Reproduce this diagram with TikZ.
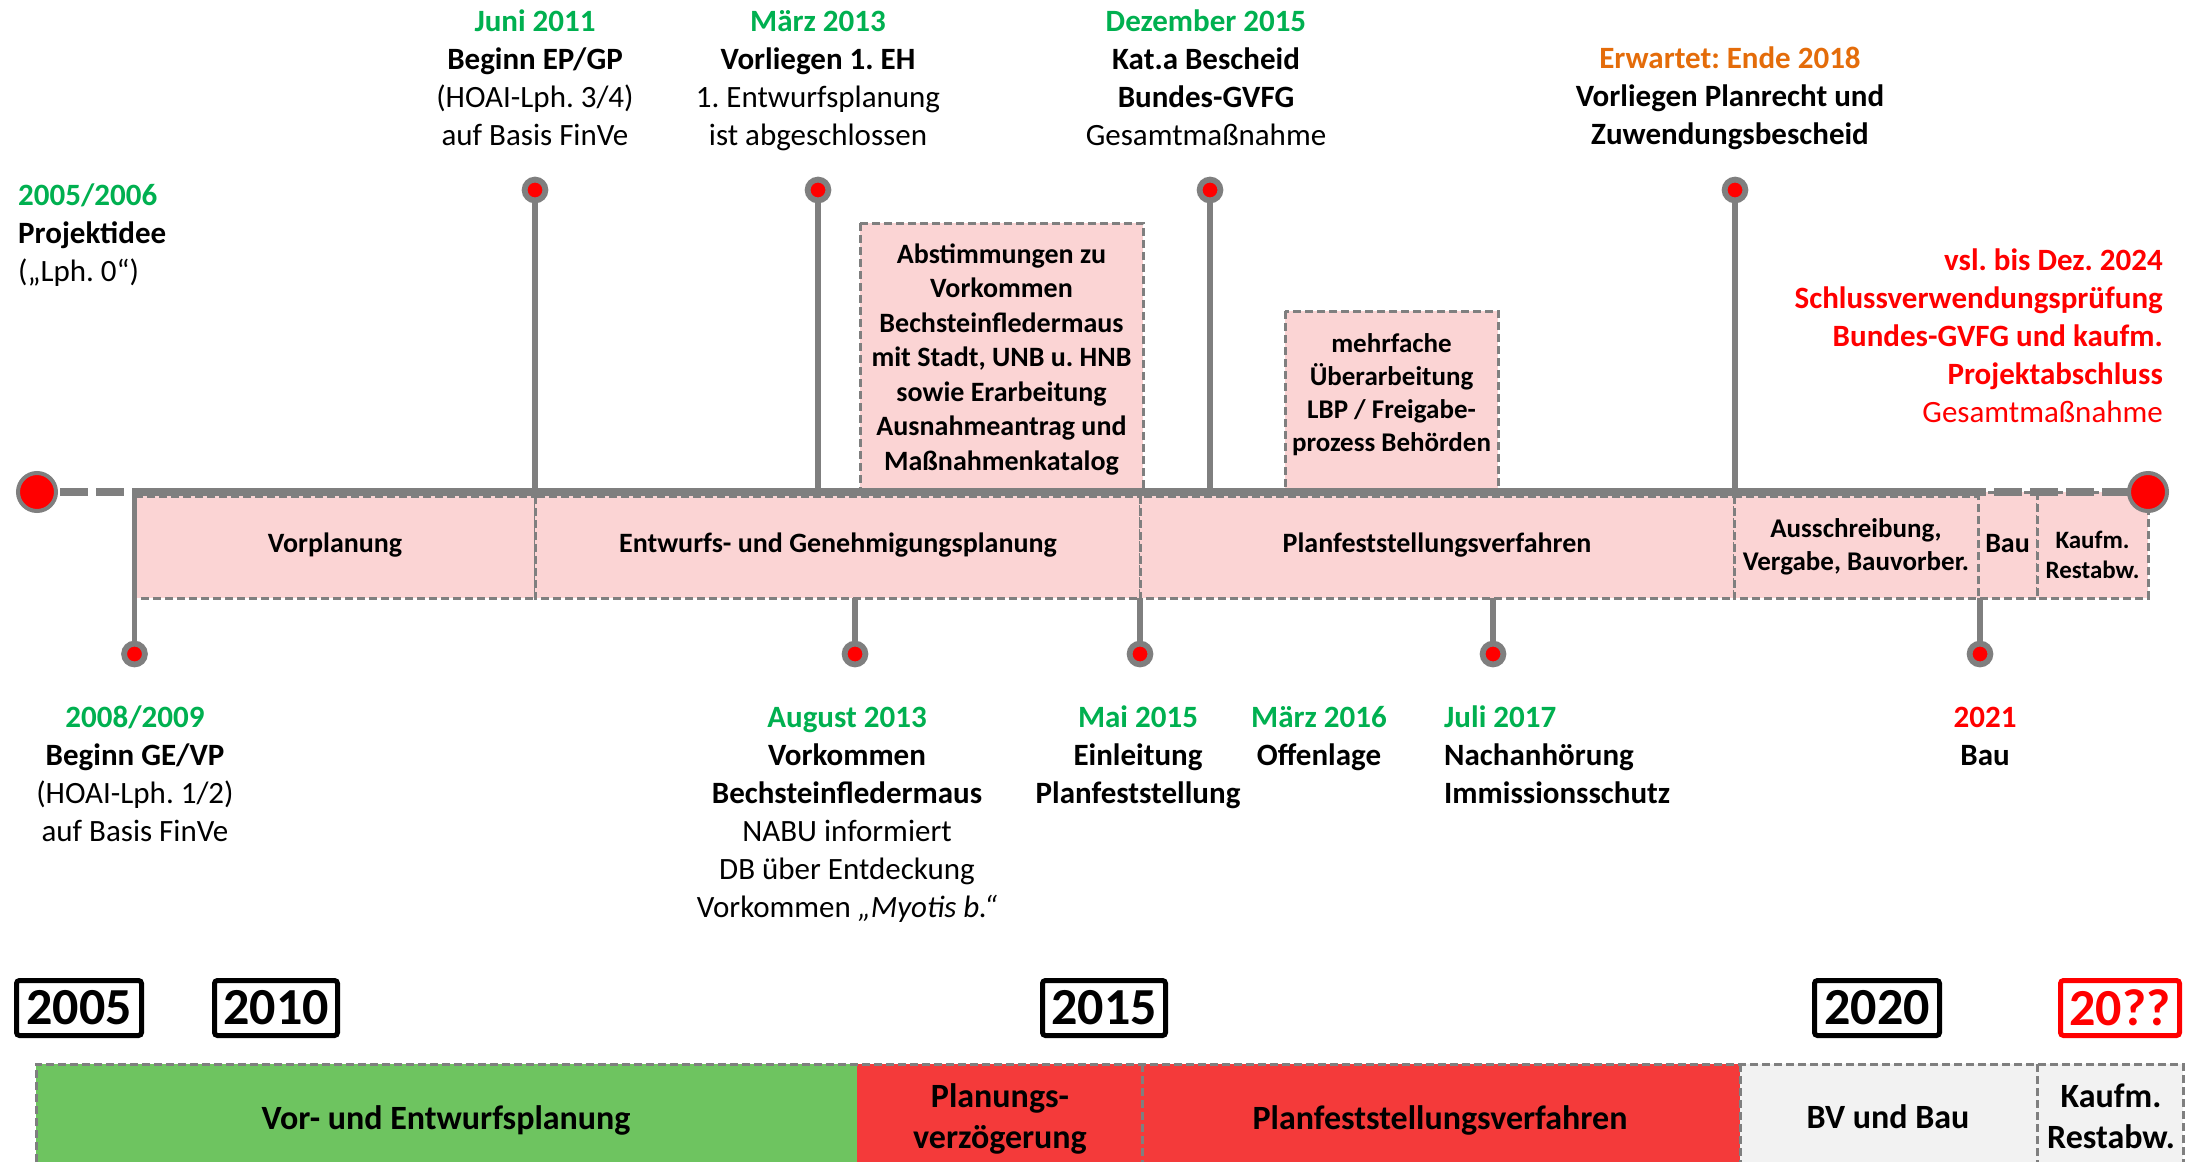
\documentclass[tikz,border=0pt]{standalone}
\usepackage{fontspec}
\setmainfont{Carlito}
\frenchspacing
\definecolor{ggreen}{HTML}{00B050}
\definecolor{gorange}{HTML}{E46C0A}
\definecolor{ggray}{HTML}{7F7F7F}
\definecolor{gpink}{RGB}{251,212,212}
\definecolor{barG}{RGB}{110,196,96}
\definecolor{barR}{RGB}{244,58,58}
\definecolor{barL}{RGB}{242,242,242}
\newcommand\lblC[1]{\begin{tabular}[t]{@{}c@{}}#1\end{tabular}}
\newcommand\lblL[1]{\begin{tabular}[t]{@{}l@{}}#1\end{tabular}}
\newcommand\lblR[1]{\begin{tabular}[t]{@{}r@{}}#1\end{tabular}}
\newcommand\gtx[1]{\textcolor{ggreen}{\textbf{#1}}}
\begin{document}
\begin{tikzpicture}[x=1pt,y=-1pt,
  lab/.style={inner sep=0pt, font=\fontsize{31}{38}\selectfont},
  boxtxt/.style={inner sep=0pt, font=\fontsize{28}{34.5}\selectfont\bfseries},
  dashbox/.style={draw=ggray, line width=3pt, dash pattern=on 8pt off 4pt},
  axisline/.style={draw=ggray, line width=8pt},
  axisdash/.style={draw=ggray, line width=8pt, dash pattern=on 28pt off 8pt},
  stemline/.style={draw=ggray, line width=5.5pt},
  dot/.style={circle, fill=red, draw=ggray, line width=5.8pt, minimum size=20.8pt, inner sep=0pt},
  bigdot/.style={circle, fill=red, draw=ggray, line width=4pt, minimum size=38pt, inner sep=0pt},
  yearbox/.style={draw=black, line width=5pt, rounded corners=3pt, minimum height=55pt, inner sep=0pt, font=\fontsize{52}{60}\selectfont\bfseries},
  bartxt/.style={inner sep=0pt, font=\fontsize{34}{41}\selectfont\bfseries}
]
\useasboundingbox (0,0) rectangle (2186,1162);
\fill[white] (0,0) rectangle (2186,1162);

% phase boxes on the axis
\path[dashbox, fill=gpink] (135,496) rectangle (535,598);
\path[dashbox, fill=gpink] (535,496) rectangle (1140,598);
\path[dashbox, fill=gpink] (1140,496) rectangle (1734,598);
\path[dashbox, fill=gpink] (1734,496) rectangle (1978,598);
\path[dashbox, fill=gpink] (1978,492) rectangle (2037,598);
\path[dashbox, fill=gpink] (2037,492) rectangle (2148,598);

% upper note boxes
\path[dashbox, fill=gpink] (860,223) rectangle (1143,490);
\path[dashbox, fill=gpink] (1285,311) rectangle (1498,490);

\node[boxtxt, anchor=base] (nb1) at (1001.5,263) {\lblC{Abstimmungen zu\\Vorkommen\\Bechsteinfledermaus\\mit Stadt, UNB u. HNB\\sowie Erarbeitung\\Ausnahmeantrag und\\Maßnahmenkatalog}};
\node[inner sep=0pt, font=\fontsize{27}{33}\selectfont\bfseries, anchor=base] (nb2) at (1391.5,352) {\lblC{mehrfache\\Überarbeitung\\LBP / Freigabe-\\prozess Behörden}};

% phase texts
\node[boxtxt, anchor=base] (p1) at (335,552) {Vorplanung};
\node[boxtxt, anchor=base] (p2) at (838,552) {Entwurfs- und Genehmigungsplanung};
\node[boxtxt, anchor=base] (p3) at (1437,552) {Planfeststellungsverfahren};
\node[inner sep=0pt, font=\fontsize{27}{33}\selectfont\bfseries, anchor=base] (p4) at (1856,537) {\lblC{Ausschreibung,\\Vergabe, Bauvorber.}};
\node[boxtxt, anchor=base] (p5) at (2007.5,552) {Bau};
\node[inner sep=0pt, font=\fontsize{25}{30}\selectfont\bfseries, anchor=base] (p6) at (2092.5,548) {\lblC{Kaufm.\\Restabw.}};

% axis
\coordinate (axL) at (132,492);
\coordinate (axR) at (1958,492);
\coordinate (dL0) at (60,492);
\coordinate (dR1) at (2128,492);
\draw[axisline] (axL) -- (axR);
\draw[axisdash] (dL0) -- (axL);
\draw[axisdash] (axR) -- (dR1);

% stems up
\foreach \n/\x in {u1/535,u2/818,u3/1210,u4/1735}{
  \coordinate (\n a) at (\x,492);
  \coordinate (\n d) at (\x,190);
  \draw[stemline] (\n a) -- (\n d);
  \node[dot] (\n) at (\n d) {};
}
% stems down
\coordinate (l1a) at (134.5,490);
\coordinate (l1d) at (134.5,654);
\draw[stemline] (l1a) -- (l1d);
\node[dot] (l1) at (l1d) {};
\foreach \n/\x in {l2/855,l3/1140,l4/1493,l5/1980}{
  \coordinate (\n a) at (\x,598);
  \coordinate (\n d) at (\x,654);
  \draw[stemline] (\n a) -- (\n d);
  \node[dot] (\n) at (\n d) {};
}

\node[bigdot] (cL) at (37,492) {};
\node[bigdot] (cR) at (2148,492) {};

% upper labels
\node[lab, anchor=base west] (t0) at (18,205) {\lblL{\gtx{2005/2006}\\\textbf{Projektidee}\\(„Lph. 0“)}};
\node[lab, anchor=base] (t1) at (535,31) {\lblC{\gtx{Juni 2011}\\\textbf{Beginn EP/GP}\\(HOAI-Lph. 3/4)\\auf Basis FinVe}};
\node[lab, anchor=base] (t2) at (818,31) {\lblC{\gtx{März 2013}\\\textbf{Vorliegen 1. EH}\\1. Entwurfsplanung\\ist abgeschlossen}};
\node[lab, anchor=base] (t3) at (1206,31) {\lblC{\gtx{Dezember 2015}\\\textbf{Kat.a Bescheid}\\\textbf{Bundes-GVFG}\\Gesamtmaßnahme}};
\node[lab, anchor=base] (t4) at (1730,68) {\lblC{\textcolor{gorange}{\textbf{Erwartet: Ende 2018}}\\\textbf{Vorliegen Planrecht und}\\\textbf{Zuwendungsbescheid}}};
\node[lab, anchor=base east, text=red] (t5) at (2163,270) {\lblR{\textbf{vsl. bis Dez. 2024}\\\textbf{Schlussverwendungsprüfung}\\\textbf{Bundes-GVFG und kaufm.}\\\textbf{Projektabschluss}\\Gesamtmaßnahme}};

% lower labels
\node[lab, anchor=base] (b1) at (135,727) {\lblC{\gtx{2008/2009}\\\textbf{Beginn GE/VP}\\(HOAI-Lph. 1/2)\\auf Basis FinVe}};
\node[lab, anchor=base] (b2) at (847,727) {\lblC{\gtx{August 2013}\\\textbf{Vorkommen}\\\textbf{Bechsteinfledermaus}\\NABU informiert\\DB über Entdeckung\\Vorkommen \textit{„Myotis b.“}}};
\node[lab, anchor=base] (b3) at (1138,727) {\lblC{\gtx{Mai 2015}\\\textbf{Einleitung}\\\textbf{Planfeststellung}}};
\node[lab, anchor=base] (b4) at (1319,727) {\lblC{\gtx{März 2016}\\\textbf{Offenlage}}};
\node[lab, anchor=base west] (b5) at (1444,727) {\lblL{\gtx{Juli 2017}\\\textbf{Nachanhörung}\\\textbf{Immissionsschutz}}};
\node[lab, anchor=base] (b6) at (1985,727) {\lblC{\textcolor{red}{\textbf{2021}}\\\textbf{Bau}}};

% year boxes
\node[yearbox, minimum width=125pt] (y05) at (79,1008) {2005};
\node[yearbox, minimum width=123pt] (y10) at (276,1008) {2010};
\node[yearbox, minimum width=123pt] (y15) at (1104,1008) {2015};
\node[yearbox, minimum width=125pt] (y20) at (1877,1008) {2020};
\node[yearbox, minimum width=119pt, draw=red, text=red] (y2x) at (2120,1008) {20??};

% bottom bar
\fill[barG] (36,1064) rectangle (857,1162);
\fill[barR] (857,1064) rectangle (1740,1162);
\fill[barL] (1740,1064) rectangle (2183,1162);
\draw[dashbox] (36,1162) -- (36,1064) -- (2183,1064) -- (2183,1162);
\draw[dashbox] (1142,1064) -- (1142,1162);
\draw[dashbox] (1740,1064) -- (1740,1162);
\draw[dashbox] (2037,1064) -- (2037,1162);

\node[bartxt, anchor=base] (s1) at (446,1129) {Vor- und Entwurfsplanung};
\node[bartxt, anchor=base] (s2) at (1000,1107) {\lblC{Planungs-\\verzögerung}};
\node[bartxt, anchor=base] (s3) at (1440,1129) {Planfeststellungsverfahren};
\node[bartxt, anchor=base] (s4) at (1888,1128) {BV und Bau};
\node[bartxt, anchor=base] (s5) at (2111,1107) {\lblC{Kaufm.\\Restabw.}};
\end{tikzpicture}
\end{document}
